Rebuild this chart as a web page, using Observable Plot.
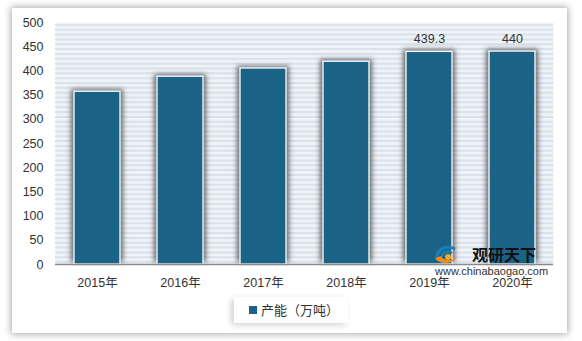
<!DOCTYPE html>
<html>
<head>
<meta charset="utf-8">
<script src="https://cdn.jsdelivr.net/npm/d3@7"></script>
<script src="https://cdn.jsdelivr.net/npm/@observablehq/plot@0.6"></script>
<style>
  html, body { margin: 0; padding: 0; background: #fff; }
  #wrap { position: relative; width: 582px; height: 341px; overflow: hidden; font-family: "Liberation Sans", "Noto Sans CJK SC", sans-serif; }
  #card { position: absolute; left: 12px; top: 8px; width: 555px; height: 325px; background: #fff; box-shadow: 0 0 7px 1px rgba(0,0,0,0.35); }
  #chart { position: absolute; left: 0; top: 0; }
  #legend { position: absolute; left: 234px; top: 297px; width: 114px; height: 26px; background: #fff; box-shadow: -3px 2px 6px rgba(0,0,0,0.18); font-size: 13px; color: #333; line-height: 26px; font-family: "Noto Sans CJK SC", sans-serif; }
  #legend .sw { display: inline-block; width: 8px; height: 8px; background: #1b6386; margin: 0 4px 0 15px; vertical-align: 1px; }
  #wm1 { position: absolute; left: 472px; top: 245px; font-size: 16px; font-weight: bold; color: #111; font-family: "Noto Sans CJK SC", sans-serif; line-height: 18px; }
  #wm2 { position: absolute; left: 435px; top: 265px; font-size: 11px; color: #333; line-height: 12px; }
  #logo { position: absolute; left: 433px; top: 243px; }
</style>
</head>
<body>
<div id="wrap">
  <div id="card"></div>
  <div id="chart"></div>
  <svg id="logo" width="32" height="22" viewBox="0 0 32 22">
    <path d="M4 14 C4 6, 14 2, 22 6" stroke="#1d7fb3" stroke-width="3" fill="none"/>
    <path d="M9 14 C9 9, 15 7, 19 10" stroke="#1d7fb3" stroke-width="2.5" fill="none"/>
    <path d="M2 15 C6 22, 20 22, 24 14 C20 18, 10 18, 8 13 Z" fill="#f08a1c"/>
    <circle cx="15" cy="14" r="3" fill="#f5a623"/>
  </svg>
  <div id="wm1">观研天下</div>
  <div id="wm2">www.chinabaogao.com</div>
  <div id="legend"><span class="sw"></span>产能（万吨）</div>
</div>
<script>
const years = ["2015年", "2016年", "2017年", "2018年", "2019年", "2020年"];
const capacity = [357, 388, 405, 419, 439.3, 440];
const labelled = ["439.3", "440"]; // only last two bars carry data labels
const yTicks = [0, 50, 100, 150, 200, 250, 300, 350, 400, 450, 500];
const stripeTicks = d3.range(5, 500, 10);

const data = years.map((y, i) => ({year: y, value: capacity[i]}));
const labelData = data.slice(4).map((d, i) => ({...d, text: labelled[i]}));

const barColor = "#1b6386";

const svg = Plot.plot({
  width: 582,
  height: 341,
  marginLeft: 55,
  marginRight: 29,
  marginTop: 22,
  marginBottom: 77,
  style: {background: "transparent", fontFamily: "Liberation Sans, Noto Sans CJK SC, sans-serif", fontSize: "12px", color: "#333"},
  x: {domain: years, padding: 0.45, paddingOuter: 0.225, label: null},
  y: {domain: [0, 500], label: null},
  marks: [
    Plot.frame({fill: "#eef3f8", stroke: null}),
    Plot.ruleY(stripeTicks, {stroke: "#d9e1ea", strokeWidth: 2}),
    Plot.axisY({ticks: yTicks, tickSize: 0, tickPadding: 12, fontSize: 12.5, fill: "#333"}),
    Plot.axisX({tickSize: 0, tickPadding: 14, fontSize: 12.5, fill: "#333", fontFamily: "Liberation Sans, Noto Sans CJK SC, sans-serif"}),
    Plot.barY(data, {x: "year", y: "value", fill: "#444", fillOpacity: 0.8, insetLeft: -3, insetRight: -3, dy: -2}),
    Plot.barY(data, {x: "year", y: "value", fill: barColor, stroke: "#fff", strokeWidth: 1.3}),
    Plot.ruleY([0], {stroke: "#8a8a8a", strokeWidth: 1.5}),
    Plot.text(labelData, {x: "year", y: "value", text: "text", dy: -13, fontSize: 12.5, fill: "#333"})
  ]
});

// blur the shadow bars
const ns = "http://www.w3.org/2000/svg";
const defs = document.createElementNS(ns, "defs");
defs.innerHTML = '<filter id="barshadow" x="-30%" y="-30%" width="160%" height="160%"><feGaussianBlur stdDeviation="2.4"/></filter>';
svg.insertBefore(defs, svg.firstChild);
const barGroups = svg.querySelectorAll('g[aria-label="bar"]');
if (barGroups.length) barGroups[0].setAttribute("filter", "url(#barshadow)");

document.getElementById("chart").appendChild(svg);
</script>
</body>
</html>
